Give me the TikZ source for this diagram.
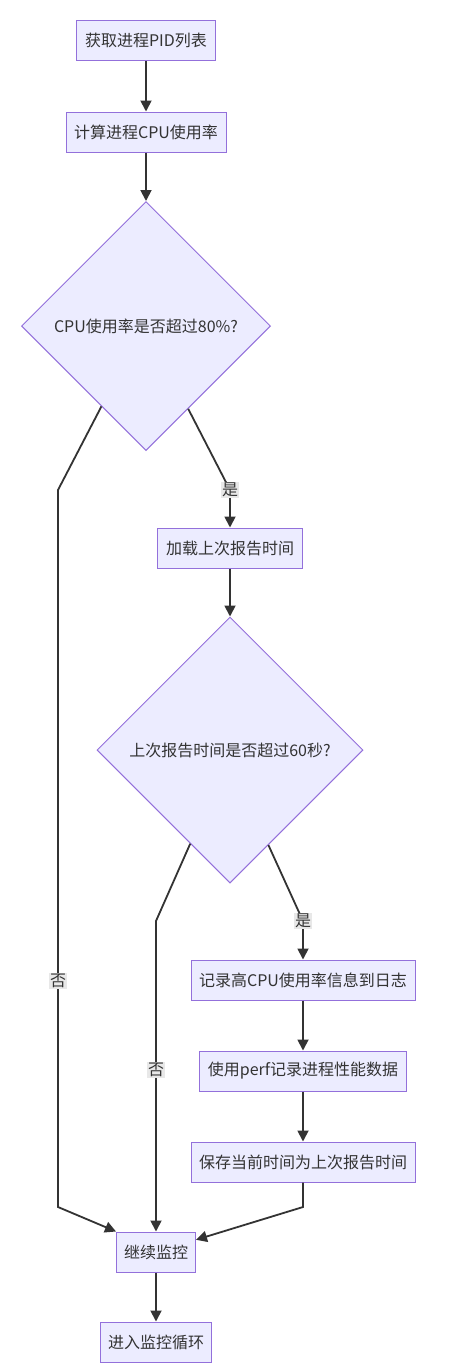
\documentclass[tikz,border=0pt]{standalone}
\usepackage{fontspec}
\setmainfont{Noto Sans CJK SC}
\usetikzlibrary{shapes.geometric,arrows.meta}
\definecolor{nodefill}{HTML}{ECECFF}
\definecolor{nodeline}{HTML}{9370DB}
\definecolor{edgecol}{HTML}{333333}
\definecolor{txt}{HTML}{333333}
\definecolor{lblbg}{HTML}{E8E8E8}
\begin{document}
\begin{tikzpicture}[x=1pt,y=-1pt,
  font=\fontsize{16}{19}\selectfont,
  box/.style={draw=nodeline,fill=nodefill,line width=1pt,text=txt,inner xsep=2pt,inner ysep=0pt,minimum height=40pt},
  dia/.style={diamond,draw=nodeline,fill=nodefill,line width=1pt,text=txt,inner sep=0pt,aspect=1},
  edge/.style={draw=edgecol,line width=1.8pt,-{Triangle[length=11pt,width=11pt]}},
  lbl/.style={fill=lblbg,text=txt,inner sep=1pt}]
\fill[white] (0,0) rectangle (451,1368);
\useasboundingbox (0,0) rectangle (451,1368);

\node[box,minimum width=139pt] (A) at (146,40.5) {获取进程PID列表};
\node[box,minimum width=160pt] (B) at (146,132) {计算进程CPU使用率};
\node[dia,minimum width=249pt,minimum height=249pt] (C) at (146,326) {CPU使用率是否超过80\%?};
\node[box,minimum width=145pt] (D) at (230,548) {加载上次报告时间};
\node[dia,minimum width=266pt,minimum height=266pt] (E) at (230,750) {上次报告时间是否超过60秒?};
\node[box,minimum width=224pt] (F) at (303,980) {记录高CPU使用率信息到日志};
\node[box,minimum width=207pt] (G) at (303,1071) {使用perf记录进程性能数据};
\node[box,minimum width=224pt] (H) at (303,1162) {保存当前时间为上次报告时间};
\node[box,minimum width=79pt] (I) at (156,1252) {继续监控};
\node[box,minimum width=111pt] (J) at (156,1342) {进入监控循环};

\coordinate (c1) at (58,490);
\coordinate (c2) at (58,1207);
\coordinate (d1) at (230,490);
\coordinate (e1) at (156,921);
\coordinate (f1) at (303,921);
\coordinate (h1) at (303,1207);

\draw[edge] (A) -- (B);
\draw[edge] (B) -- (C);
\draw[edge] (C.241.8) -- (c1) -- node[lbl,pos=0.685]{否} (c2) -- (I.north west);
\draw[edge] (C.297.1) -- (d1) node[lbl]{是} -- (D);
\draw[edge] (D) -- (E);
\draw[edge] (E.247.2) -- (e1) -- node[lbl,pos=0.48]{否} (I);
\draw[edge] (E.292.8) -- (f1) node[lbl]{是} -- (F);
\draw[edge] (F) -- (G);
\draw[edge] (G) -- (H);
\draw[edge] (H) -- (h1) -- (I.17);
\draw[edge] (I) -- (J);
\end{tikzpicture}
\end{document}
